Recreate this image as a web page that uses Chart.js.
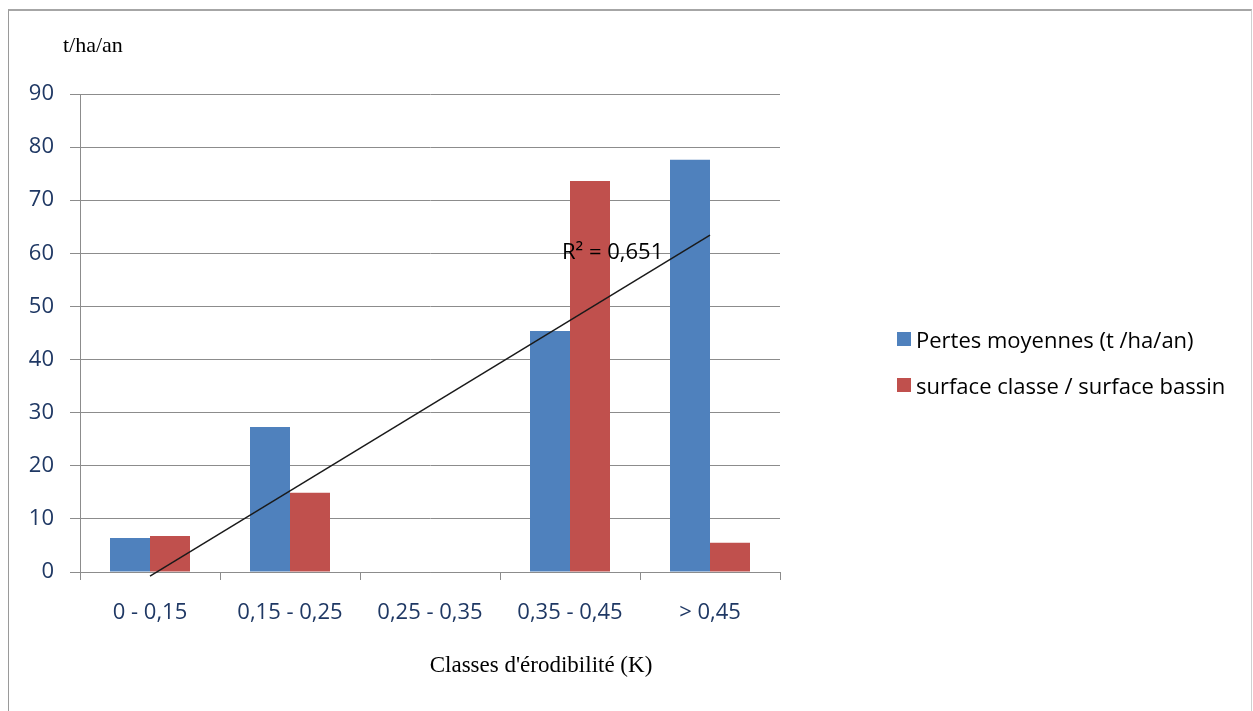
<!DOCTYPE html>
<html>
<head>
<meta charset="utf-8">
<script src="https://cdn.jsdelivr.net/npm/chart.js@4"></script>
<style>
    body { margin: 0; background: #fff; }
    #frame {
        position: absolute; left: 8px; top: 9px; width: 1242px; height: 720px;
        border-top: 2px solid #a6a6a6; border-left: 1px solid #9a9a9a; border-right: 1px solid #d0d0d0;
    }
    #wrap { position: absolute; left: 0; top: 0; width: 1253px; height: 711px; }
    #legend { position: absolute; left: 897px; top: 324px; font: 22px "Open Sans", sans-serif; color: #000; }
    .item { display: flex; align-items: center; height: 30px; margin-bottom: 16px; white-space: nowrap; }
    .swatch { width: 14px; height: 14px; margin-right: 5px; }
</style>
</head>
<body>
<div id="frame"></div>
<div id="wrap"><canvas id="chart" width="1253" height="711"></canvas></div>
<div id="legend"></div>
<script>
// Data
const categories = ['0 - 0,15', '0,15 - 0,25', '0,25 - 0,35', '0,35 - 0,45', '> 0,45'];
const pertes = [6.4, 27.3, 0, 45.4, 77.6];
const surface = [6.8, 14.9, 0, 73.6, 5.5];
const yTicks = [0, 10, 20, 30, 40, 50, 60, 70, 80, 90];
const seriesNames = ['Pertes moyennes (t /ha/an)', 'surface classe / surface bassin'];

// Linear trendline on the blue series (Excel style)
function linearTrend(values) {
    const n = values.length;
    const xs = values.map((v, i) => i + 1);
    const mx = xs.reduce((a, b) => a + b, 0) / n;
    const my = values.reduce((a, b) => a + b, 0) / n;
    let sxy = 0, sxx = 0, syy = 0;
    for (let i = 0; i < n; i++) {
        sxy += (xs[i] - mx) * (values[i] - my);
        sxx += (xs[i] - mx) ** 2;
        syy += (values[i] - my) ** 2;
    }
    const slope = sxy / sxx;
    const icpt = my - slope * mx;
    return { slope, icpt, r2: (sxy * sxy) / (sxx * syy) };
}
const trend = linearTrend(pertes);
const trendData = pertes.map((v, i) =>
    (i === 0 || i === pertes.length - 1) ? trend.icpt + trend.slope * (i + 1) : null);

const gridColor = '#8c8c8c';
const tickFont = { family: 'Open Sans', size: 22 };
const tickColor = '#1f3864';

// Extra text: axis titles and R² label
const annotations = {
    id: 'annotations',
    afterDatasetsDraw(chart) {
        const ctx = chart.ctx;
        const x = chart.scales.x, y = chart.scales.y;
        ctx.save();
        ctx.fillStyle = '#000';
        ctx.textBaseline = 'middle';
        ctx.font = '22px "Open Sans"';
        ctx.textAlign = 'left';
        const r2 = trend.r2.toFixed(3).replace('.', ',');
        ctx.fillText('R² = ' + r2, x.getPixelForValue(3) - 8, y.getPixelForValue(60.2));

        ctx.font = '22px "Liberation Serif"';
        ctx.fillText('t/ha/an', 63, 46);
        ctx.font = '23px "Liberation Serif"';
        ctx.textAlign = 'center';
        ctx.fillText("Classes d'érodibilité (K)", 541, 666);
        ctx.restore();
    }
};

const chart = new Chart(document.getElementById('chart'), {
    type: 'bar',
    data: {
        labels: categories,
        datasets: [
            {
                type: 'line', label: 'Linéaire', data: trendData, order: 0, clip: false,
                borderColor: '#1a1a1a', borderWidth: 1.5, pointRadius: 0, spanGaps: true
            },
            { label: seriesNames[0], data: pertes, backgroundColor: '#4f81bd', order: 1 },
            { label: seriesNames[1], data: surface, backgroundColor: '#c0504d', order: 1 }
        ]
    },
    options: {
        responsive: false,
        animation: false,
        layout: { padding: { top: 94, right: 473, left: 0, bottom: 0 } },
        datasets: { bar: { categoryPercentage: 80 / 140, barPercentage: 1 } },
        plugins: { legend: { display: false }, tooltip: { enabled: false } },
        scales: {
            x: {
                afterFit: s => { s.height = 711 - 572; },
                grid: { drawOnChartArea: false, drawTicks: true, tickLength: 8, color: gridColor, offset: true },
                border: { color: gridColor, width: 1 },
                ticks: { font: tickFont, color: tickColor, padding: 20, maxRotation: 0 }
            },
            y: {
                min: 0, max: 90,
                afterFit: s => { s.width = 80; },
                afterBuildTicks: s => { s.ticks = yTicks.map(v => ({ value: v })); },
                grid: { color: gridColor, tickLength: 10 },
                border: { color: gridColor, width: 1 },
                ticks: { font: tickFont, color: tickColor, padding: 16 }
            }
        }
    },
    plugins: [annotations]
});

// HTML legend built from the bar datasets
const legendEl = document.getElementById('legend');
chart.data.datasets.filter(d => d.type !== 'line').forEach(d => {
    const item = document.createElement('div');
    item.className = 'item';
    item.innerHTML = `<span class="swatch" style="background:${d.backgroundColor}"></span><span>${d.label}</span>`;
    legendEl.appendChild(item);
});
</script>
</body>
</html>
